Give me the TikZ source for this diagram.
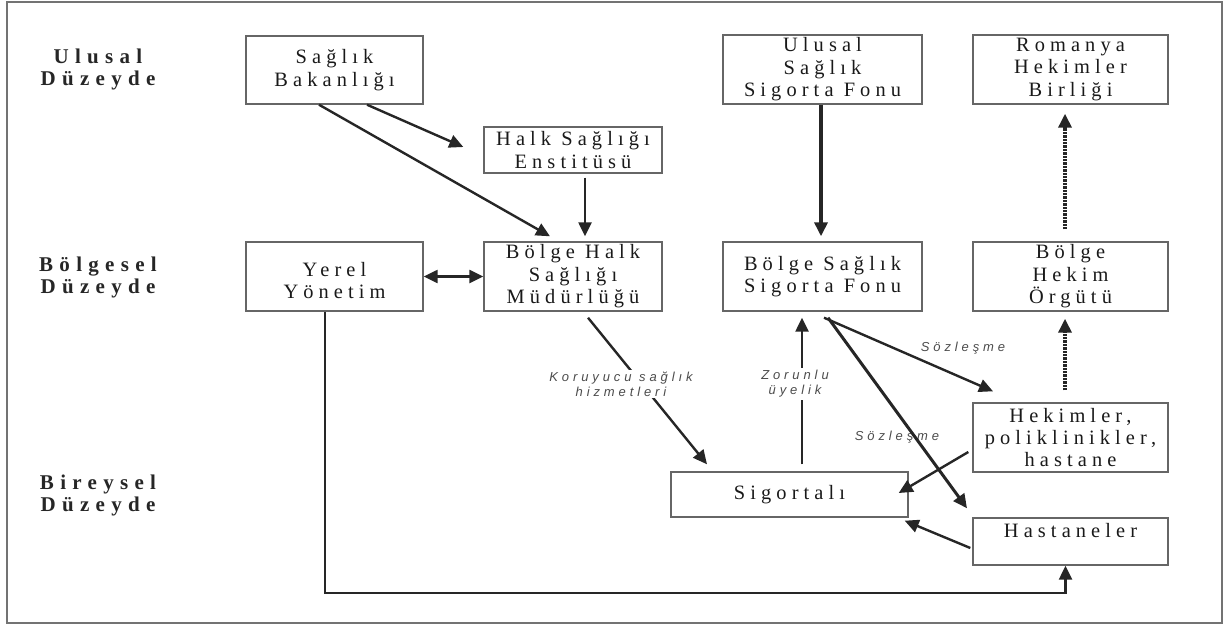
\documentclass[tikz,border=0pt]{standalone}
\usepackage{fontspec}
\setmainfont{Liberation Serif}
\newfontfamily\boxfont[LetterSpace=25]{Liberation Serif}
\newfontfamily\levelfont[LetterSpace=30]{Liberation Serif}
\newfontfamily\labfont[LetterSpace=30]{Liberation Sans}
\usetikzlibrary{arrows.meta,calc,positioning}

\begin{document}
\begin{tikzpicture}[
  x=0.5pt,y=-0.5pt,
  >={Triangle[length=7pt,width=6.5pt]},
  box/.style={draw=black!60,line width=0.7pt,minimum width=#1,inner sep=0pt,align=center,
    font=\boxfont\fontsize{10.2}{11.2}\selectfont,text=black!90},
  box/.default=88.5pt,
  level/.style={align=center,font=\levelfont\bfseries\fontsize{10.5}{11}\selectfont,text=black!85},
  arr/.style={->,line width=1.2pt,draw=black!85},
  dots/.style={->,line width=1.7pt,draw=black!85,dash pattern=on 1.2pt off 0.5pt},
  lab/.style={font=\labfont\itshape\fontsize{6.5}{7.5}\selectfont,text=black!70,align=center,fill=white,inner sep=1pt}
]
\useasboundingbox (0,0) rectangle (1225,626);
\draw[black!55,line width=1pt] (7,2) rectangle (1222,623);

\node[level] (ulusal) at (98,69) {Ulusal\\Düzeyde};
\node[level] (bolgesel) at (98,277.5) {Bölgesel\\Düzeyde};
\node[level] (bireysel) at (98,495) {Bireysel\\Düzeyde};

\node[box,minimum height=34pt] (sb) at (334.5,70) {Sağlık\\Bakanlığı};
\node[box=89pt,minimum height=23pt] (hse) at (573,150) {Halk Sağlığı\\Enstitüsü};
\node[box,minimum height=34.5pt] (yy) at (334.5,276.5) {\mbox{}\\Yerel\\Yönetim};
\node[box=89pt,minimum height=34.5pt] (bhsm) at (573,276.5) {Bölge Halk\\Sağlığı\\Müdürlüğü};
\node[box=99.5pt,minimum height=34.5pt] (ussf) at (822.5,69.5) {Ulusal\\Sağlık\\Sigorta Fonu};
\node[box=97.5pt,minimum height=34.5pt] (rhb) at (1070.5,69.5) {Romanya\\Hekimler\\Birliği};
\node[box=99.5pt,minimum height=34.5pt] (bssf) at (822.5,276.5) {Bölge Sağlık\\Sigorta Fonu};
\node[box=97.5pt,minimum height=34.5pt] (bho) at (1070.5,276.5) {Bölge\\Hekim\\Örgütü};
\node[box=97.5pt,minimum height=34.5pt] (hek) at (1070.5,437.5) {Hekimler,\\poliklinikler,\\hastane};
\node[box=118.5pt,minimum height=22.5pt] (sig) at (789.5,494.5) {Sigortalı};
\node[box=97.5pt,minimum height=23.5pt] (hast) at (1070.5,541.5) {Hastaneler\\\mbox{}};

\draw[arr] ($(sb.south)+(-15.5,0)$) -- ($(bhsm.north)+(-23,-5)$);
\draw[arr] ($(sb.south)+(32.5,0)$) -- ($(hse.west)+(-20,-3)$);
\draw[arr] ($(hse.south)+(12,4)$) -- ($(bhsm.north)+(12,-5)$);
\draw[arr,<->] (yy.east) -- (bhsm.west);
\draw[arr] ($(yy.south)+(-9.5,0)$) -- ++(0,281) -| ($(hast.south)+(-5,0)$);
\draw[arr,line width=2pt] ($(ussf.south)+(-1.5,0)$) -- ($(bssf.north)+(-1.5,-5)$);
\draw[arr] ($(bhsm.south)+(15,6)$) -- ($(sig.north)+(-82.5,-7)$);
\node[lab] (koruyucu) at (621,384) {Koruyucu sağlık\\hizmetleri};
\draw[arr] ($(sig.north)+(12.5,-7)$) -- ($(bssf.south)+(-20.5,6)$);
\node[lab] (zorunlu) at (795,384) {Zorunlu\\üyelik};
\draw[arr] ($(bssf.south)+(1.5,6)$) -- ($(hek.north)+(-77.5,-11)$);
\node[lab,fill=none] (soz1) at (963,348) {Sözleşme};
\node[lab,fill=none] (soz2) at (897,437) {Sözleşme};
\draw[arr,line width=1.5pt] ($(bssf.south)+(5.5,6)$) -- ($(hast.north)+(-103.5,-9)$);
\draw[arr] ($(hek.west)+(-4,14.5)$) -- ($(sig.east)+(-10,-1.5)$);
\draw[arr] ($(hast.west)+(-2,6.5)$) -- ($(sig.south east)+(-4,3)$);
\draw[dots] ($(bho.north)+(-5.5,-12)$) -- ($(rhb.south)+(-5.5,9)$);
\draw[dots] ($(hek.north)+(-5.5,-12)$) -- ($(bho.south)+(-5.5,7)$);
\end{tikzpicture}
\end{document}
